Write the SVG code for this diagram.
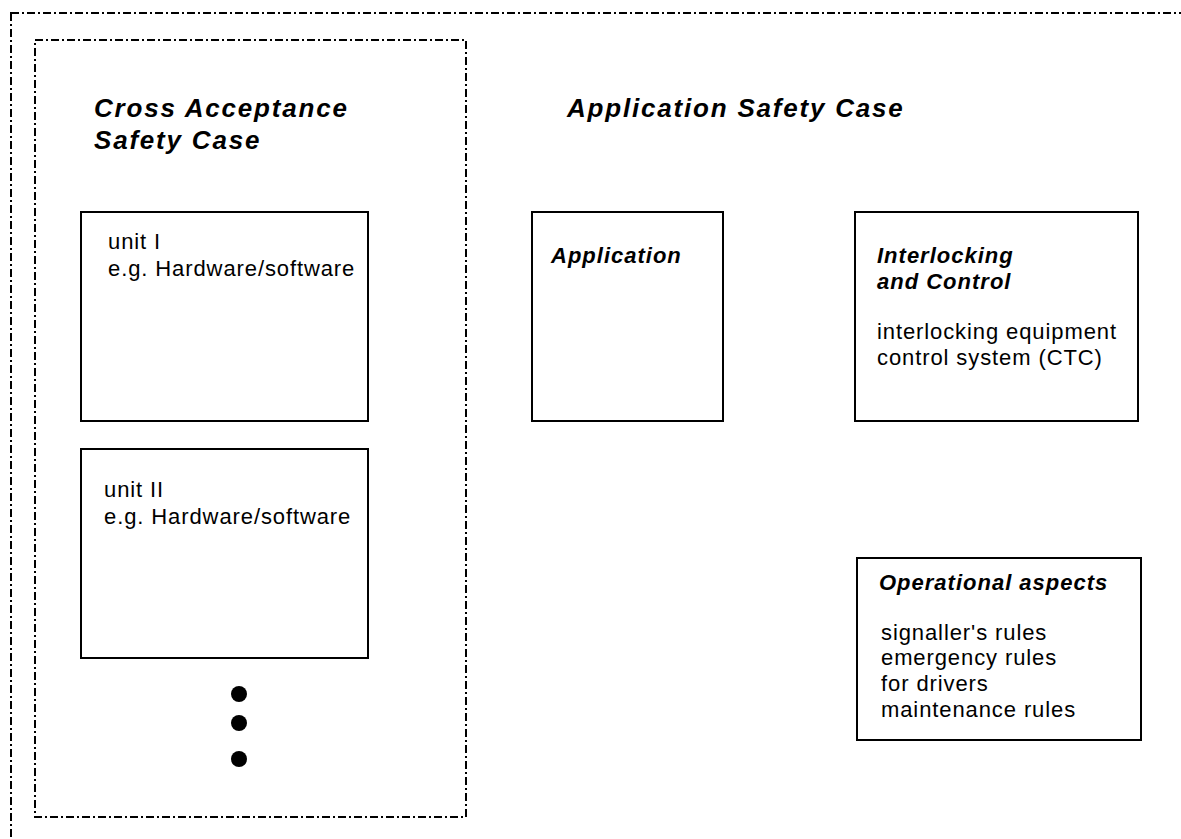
<svg xmlns="http://www.w3.org/2000/svg" width="1181" height="839" viewBox="0 0 1181 839">
<style>
.frame{fill:none;stroke:#000;stroke-width:2;stroke-dasharray:8 3 2 3}
.box{fill:#fff;stroke:#000;stroke-width:2}
.t{font-family:"Liberation Sans",Arial,sans-serif;font-size:22px;letter-spacing:0.9px;fill:#000}
.h{font-family:"Liberation Sans",Arial,sans-serif;font-size:22px;font-weight:bold;font-style:italic;letter-spacing:1px;fill:#000}
.H{font-family:"Liberation Sans",Arial,sans-serif;font-size:26px;font-weight:bold;font-style:italic;letter-spacing:1.8px;fill:#000}
.dot{fill:#000}
</style>
<rect width="1181" height="839" fill="#fff"/>
<g id="application-safety-case">
<rect class="frame" x="11" y="13" width="1200" height="860"/>
<text class="H" x="567" y="117">Application Safety Case</text>
</g>
<g id="cross-acceptance-safety-case">
<rect class="frame" x="35" y="40" width="431" height="777"/>
<text class="H" x="94" y="117">Cross Acceptance</text>
<text class="H" x="94" y="149">Safety Case</text>
</g>
<g id="unit-1">
<rect class="box" x="81" y="212" width="287" height="209"/>
<text class="t" x="108" y="249">unit I</text>
<text class="t" x="108" y="276">e.g. Hardware/software</text>
</g>
<g id="unit-2">
<rect class="box" x="81" y="449" width="287" height="209"/>
<text class="t" x="104" y="497">unit II</text>
<text class="t" x="104" y="524">e.g. Hardware/software</text>
</g>
<g id="more-units">
<circle class="dot" cx="239" cy="694" r="8"/>
<circle class="dot" cx="239" cy="723" r="8"/>
<circle class="dot" cx="239" cy="759" r="8"/>
</g>
<g id="application">
<rect class="box" x="532" y="212" width="191" height="209"/>
<text class="h" x="551" y="263">Application</text>
</g>
<g id="interlocking-and-control">
<rect class="box" x="855" y="212" width="283" height="209"/>
<text class="h" x="877" y="263">Interlocking</text>
<text class="h" x="877" y="289">and Control</text>
<text class="t" x="877" y="339">interlocking equipment</text>
<text class="t" x="877" y="365">control system (CTC)</text>
</g>
<g id="operational-aspects">
<rect class="box" x="857" y="558" width="284" height="182"/>
<text class="h" x="879" y="590">Operational aspects</text>
<text class="t" x="881" y="640">signaller's rules</text>
<text class="t" x="881" y="665">emergency rules</text>
<text class="t" x="881" y="691">for drivers</text>
<text class="t" x="881" y="717">maintenance rules</text>
</g>
<g id="connectors"></g>
</svg>
